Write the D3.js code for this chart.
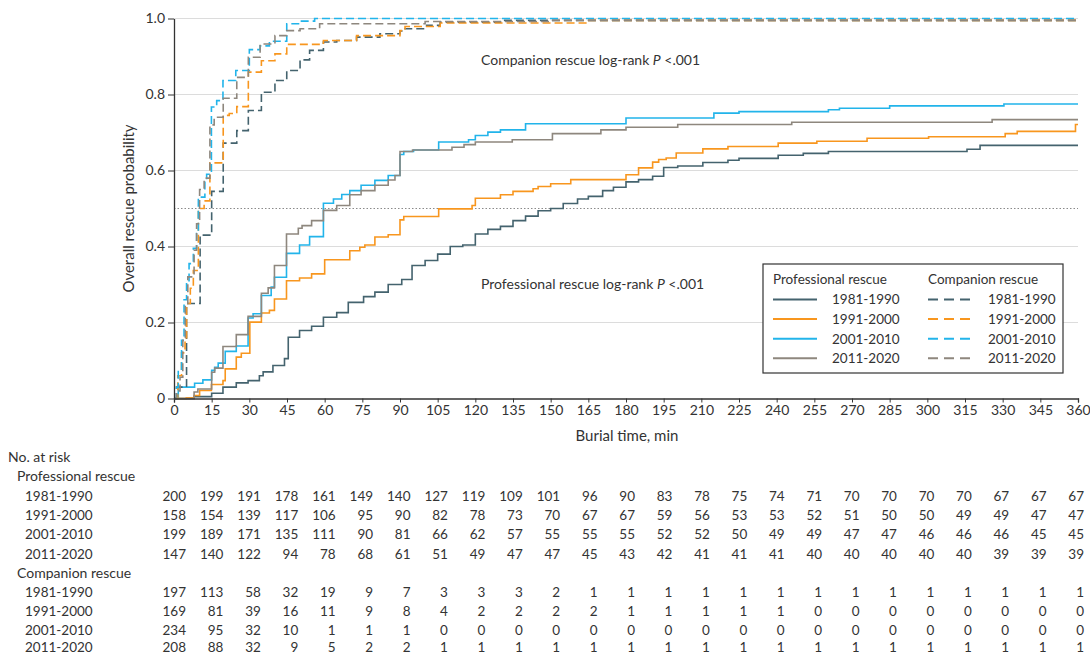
<!DOCTYPE html>
<html lang="en">
<head>
<meta charset="UTF-8">
<title>Overall rescue probability by burial time</title>
<style>
    html, body {
        margin: 0;
        padding: 0;
        background: #fff;
    }
    #svg text {
        font-family: "Lato", "Open Sans", sans-serif;
        fill: #333;
    }
</style>
</head>
<body>
<svg id="svg" width="1090" height="656"></svg>
<script src="https://d3js.org/d3.v7.min.js"></script>
<script>
    const decades = ["1981-1990", "1991-2000", "2001-2010", "2011-2020"]
    const timeTicks = [0, 15, 30, 45, 60, 75, 90, 105, 120, 135, 150, 165, 180, 195, 210, 225, 240, 255, 270, 285, 300, 315, 330, 345, 360]
    const probTicks = [0, 0.2, 0.4, 0.6, 0.8, 1.0]
    const probTickLabels = ["0", "0.2", "0.4", "0.6", "0.8", "1.0"]

    // professional rescue curves (minutes, probability), step after each point
    const proTime1 = [0, 8, 15, 19.5, 24.8, 29.5, 34, 35.5, 39.4, 44, 45.5, 50, 54.8, 59.5, 64.8, 69.4, 75.5, 80, 85.3, 90.7, 94.8, 100, 105, 110, 115, 120, 125, 130, 135, 140, 145, 150, 155, 160.7, 165, 170.7, 175, 180, 185, 190.6, 195, 200.6, 210.6, 220.6, 225, 240.6, 250.6, 260.6, 315.8, 321, 360]
    const proProb1 = [0, 0.005, 0.014, 0.03, 0.041, 0.047, 0.06, 0.07, 0.087, 0.105, 0.161, 0.179, 0.19, 0.214, 0.226, 0.253, 0.268, 0.28, 0.3, 0.313, 0.35, 0.363, 0.38, 0.4, 0.404, 0.433, 0.445, 0.453, 0.468, 0.48, 0.494, 0.5, 0.513, 0.525, 0.532, 0.547, 0.556, 0.57, 0.576, 0.585, 0.608, 0.612, 0.621, 0.627, 0.632, 0.64, 0.645, 0.65, 0.656, 0.666, 0.666]

    const proTime2 = [0, 4.9, 8, 10.2, 14.9, 19.5, 20.4, 24.8, 26.8, 30.2, 34.8, 38, 40, 44.8, 50, 54.8, 60, 70, 74, 76, 80, 85.3, 90, 91.5, 105.4, 118.7, 120, 130, 135, 143, 145, 150, 158, 180, 185, 190.6, 193, 196, 200, 210.6, 220.6, 240.6, 256, 276, 300.5, 331, 335.8, 359, 360]
    const proProb2 = [0, 0.002, 0.008, 0.021, 0.037, 0.047, 0.078, 0.109, 0.119, 0.201, 0.225, 0.232, 0.262, 0.31, 0.317, 0.328, 0.365, 0.389, 0.398, 0.404, 0.425, 0.431, 0.47, 0.479, 0.499, 0.508, 0.527, 0.536, 0.545, 0.552, 0.558, 0.565, 0.576, 0.589, 0.607, 0.622, 0.629, 0.633, 0.646, 0.657, 0.663, 0.672, 0.677, 0.685, 0.689, 0.697, 0.703, 0.721, 0.721]

    const proTime3 = [0, 1.7, 8.2, 11.5, 15, 16.2, 17.6, 20.4, 24.8, 29.5, 31.5, 34.8, 38.7, 40, 44.8, 50, 54, 59.5, 63.5, 66.8, 70, 74.5, 80, 85.3, 90, 91.5, 95.4, 105.4, 117.3, 120, 125, 130, 140, 180, 215, 225, 260.6, 265, 285, 330.5, 360]
    const proProb3 = [0, 0.03, 0.04, 0.049, 0.074, 0.082, 0.093, 0.124, 0.138, 0.212, 0.223, 0.271, 0.293, 0.319, 0.382, 0.404, 0.426, 0.514, 0.525, 0.537, 0.547, 0.561, 0.574, 0.587, 0.642, 0.65, 0.654, 0.675, 0.681, 0.692, 0.701, 0.707, 0.723, 0.738, 0.751, 0.755, 0.76, 0.764, 0.77, 0.775, 0.775]

    const proTime4 = [0, 8, 9.5, 15, 16.2, 19.5, 24.8, 29.5, 34.8, 37.5, 40, 44.8, 49.5, 51, 54.8, 59.5, 64.8, 70, 74.5, 80, 85.3, 88, 90, 95, 110.7, 115.5, 120, 134.7, 150.7, 170, 180, 200.6, 246, 325.8, 360]
    const proProb4 = [0, 0.017, 0.025, 0.069, 0.08, 0.137, 0.168, 0.216, 0.277, 0.291, 0.35, 0.433, 0.448, 0.455, 0.468, 0.495, 0.508, 0.536, 0.547, 0.561, 0.575, 0.587, 0.65, 0.654, 0.661, 0.668, 0.675, 0.681, 0.697, 0.707, 0.714, 0.721, 0.727, 0.734, 0.734]

    // companion rescue curves
    const comTime1 = [0, 1, 5, 10.4, 15, 19.6, 25, 29.6, 34.8, 40.2, 44.9, 50.2, 54, 59.5, 64.8, 72.7, 82, 90, 91.3, 100.6, 106, 130, 360]
    const comProb1 = [0, 0.03, 0.25, 0.43, 0.545, 0.672, 0.705, 0.758, 0.806, 0.837, 0.863, 0.891, 0.916, 0.938, 0.942, 0.951, 0.96, 0.967, 0.973, 0.982, 0.99, 0.995, 0.995]

    const comTime2 = [0, 1.5, 3, 4.4, 5, 6.5, 7.7, 9.7, 12, 14.3, 19.6, 22, 25, 29.6, 34.8, 40.2, 44.9, 59.5, 72.7, 90, 92, 106, 164, 360]
    const comProb2 = [0, 0.06, 0.12, 0.16, 0.25, 0.29, 0.337, 0.5, 0.52, 0.62, 0.745, 0.75, 0.768, 0.859, 0.889, 0.907, 0.932, 0.942, 0.955, 0.968, 0.979, 0.988, 0.995, 0.995]

    const comTime3 = [0, 1, 1.7, 3, 4, 5, 6, 7.7, 9, 9.7, 12.3, 13, 14.9, 17, 19.5, 24.6, 30, 34.3, 38, 44.9, 50.2, 56, 360]
    const comProb3 = [0, 0.03, 0.074, 0.153, 0.26, 0.31, 0.355, 0.395, 0.434, 0.53, 0.574, 0.59, 0.767, 0.784, 0.837, 0.863, 0.918, 0.928, 0.94, 0.986, 0.993, 1, 1]

    const comTime4 = [0, 1, 2.4, 3.5, 4.5, 5.5, 8, 9, 10.2, 12, 14.3, 16, 19.6, 25, 29.6, 34.3, 40.2, 44.9, 50.2, 58, 100, 150, 360]
    const comProb4 = [0, 0.02, 0.056, 0.153, 0.25, 0.32, 0.39, 0.46, 0.55, 0.58, 0.72, 0.74, 0.79, 0.845, 0.898, 0.933, 0.955, 0.968, 0.973, 0.986, 0.992, 0.995, 0.995]

    // number at risk, one value per time tick
    const riskPro1 = [200, 199, 191, 178, 161, 149, 140, 127, 119, 109, 101, 96, 90, 83, 78, 75, 74, 71, 70, 70, 70, 70, 67, 67, 67]
    const riskPro2 = [158, 154, 139, 117, 106, 95, 90, 82, 78, 73, 70, 67, 67, 59, 56, 53, 53, 52, 51, 50, 50, 49, 49, 47, 47]
    const riskPro3 = [199, 189, 171, 135, 111, 90, 81, 66, 62, 57, 55, 55, 55, 52, 52, 50, 49, 49, 47, 47, 46, 46, 46, 45, 45]
    const riskPro4 = [147, 140, 122, 94, 78, 68, 61, 51, 49, 47, 47, 45, 43, 42, 41, 41, 41, 40, 40, 40, 40, 40, 39, 39, 39]
    const riskCom1 = [197, 113, 58, 32, 19, 9, 7, 3, 3, 3, 2, 1, 1, 1, 1, 1, 1, 1, 1, 1, 1, 1, 1, 1, 1]
    const riskCom2 = [169, 81, 39, 16, 11, 9, 8, 4, 2, 2, 2, 2, 1, 1, 1, 1, 1, 0, 0, 0, 0, 0, 0, 0, 0]
    const riskCom3 = [234, 95, 32, 10, 1, 1, 1, 0, 0, 0, 0, 0, 0, 0, 0, 0, 0, 0, 0, 0, 0, 0, 0, 0, 0]
    const riskCom4 = [208, 88, 32, 9, 5, 2, 2, 1, 1, 1, 1, 1, 1, 1, 1, 1, 1, 1, 1, 1, 1, 1, 1, 1, 1]

    const colors = ["#44636e", "#f8961e", "#22b4ea", "#8e877e"]

    const svg = d3.select('#svg')

    // scales
    const x = d3.scaleLinear().domain([0, 360]).range([174, 1078])
    const y = d3.scaleLinear().domain([0, 1]).range([398.5, 18.5])

    // grid lines
    svg.append('g')
        .selectAll('line')
        .data(probTicks.slice(1))
        .enter()
        .append('line')
        .attr('x1', x(0))
        .attr('x2', x(360))
        .attr('y1', d => y(d))
        .attr('y2', d => y(d))
        .attr('stroke', '#dcdcdc')
        .attr('stroke-width', 1)

    // median line
    svg.append('line')
        .attr('x1', x(0))
        .attr('x2', x(360))
        .attr('y1', y(0.5))
        .attr('y2', y(0.5))
        .attr('stroke', '#8a8a8a')
        .attr('stroke-width', 1)
        .attr('stroke-dasharray', '1.5,2')

    // curves
    const series = [
        { t: proTime1, p: proProb1, c: 0, dash: false },
        { t: proTime2, p: proProb2, c: 1, dash: false },
        { t: proTime3, p: proProb3, c: 2, dash: false },
        { t: proTime4, p: proProb4, c: 3, dash: false },
        { t: comTime1, p: comProb1, c: 0, dash: true },
        { t: comTime2, p: comProb2, c: 1, dash: true },
        { t: comTime3, p: comProb3, c: 2, dash: true },
        { t: comTime4, p: comProb4, c: 3, dash: true },
    ]

    const line = d3.line()
        .x(d => x(d[0]))
        .y(d => y(d[1]))
        .curve(d3.curveStepAfter)

    svg.append('g')
        .selectAll('path')
        .data(series)
        .enter()
        .append('path')
        .attr('d', d => line(d3.zip(d.t, d.p)))
        .attr('fill', 'none')
        .attr('stroke', d => colors[d.c])
        .attr('stroke-width', 1.6)
        .attr('stroke-dasharray', d => d.dash ? '8,4' : null)

    // axes
    const bottomAxis = d3.axisBottom(x)
        .tickValues(timeTicks)
        .tickSize(4)
        .tickPadding(3)
    const xAxis = svg.append('g')
        .attr('transform', `translate(0, ${y(0)})`)
        .call(bottomAxis)
    xAxis.select('.domain').attr('stroke', '#333').attr('stroke-width', 1.3)
    xAxis.selectAll('.tick line').attr('stroke', '#333')
    xAxis.selectAll('text')
        .attr('font-size', '14px')
        .attr('fill', '#333')

    const leftAxis = d3.axisLeft(y)
        .tickValues(probTicks)
        .tickFormat((d, i) => probTickLabels[i])
        .tickSize(6)
        .tickSizeOuter(0)
        .tickPadding(3)
    const yAxis = svg.append('g')
        .attr('transform', `translate(${x(0)}, 0)`)
        .call(leftAxis)
    yAxis.select('.domain').attr('stroke', '#333').attr('stroke-width', 1.3)
    yAxis.selectAll('.tick line').attr('stroke', '#333')
    yAxis.selectAll('text')
        .attr('font-size', '14px')
        .attr('fill', '#333')

    // axis titles
    svg.append('text')
        .attr('transform', `translate(134, ${y(0.5)}) rotate(-90)`)
        .attr('text-anchor', 'middle')
        .attr('font-size', '15px')
        .text('Overall rescue probability')

    svg.append('text')
        .attr('x', 627)
        .attr('y', 441)
        .attr('text-anchor', 'middle')
        .attr('font-size', '15px')
        .text('Burial time, min')

    // log-rank notes
    const notes = [
        { label: 'Companion rescue log-rank ', yy: 65 },
        { label: 'Professional rescue log-rank ', yy: 289 },
    ]
    notes.forEach(n => {
        const t = svg.append('text')
            .attr('x', 481)
            .attr('y', n.yy)
            .attr('font-size', '14px')
        t.append('tspan').text(n.label)
        t.append('tspan').attr('font-style', 'italic').text('P')
        t.append('tspan').text(' <.001')
    })

    // legend
    const legend = svg.append('g').attr('transform', 'translate(763, 264)')
    legend.append('rect')
        .attr('width', 300)
        .attr('height', 109)
        .attr('fill', '#fff')
        .attr('stroke', '#333')
        .attr('stroke-width', 1.2)
    legend.append('text').attr('x', 10).attr('y', 20).attr('font-size', '13.5px').text('Professional rescue')
    legend.append('text').attr('x', 165).attr('y', 20).attr('font-size', '13.5px').text('Companion rescue')

    decades.forEach((dec, i) => {
        const ly = 35.5 + i * 19.6
        legend.append('line')
            .attr('x1', 10).attr('x2', 54)
            .attr('y1', ly).attr('y2', ly)
            .attr('stroke', colors[i])
            .attr('stroke-width', 2)
        legend.append('text')
            .attr('x', 69).attr('y', ly + 4.8)
            .attr('font-size', '13.5px')
            .text(dec)
        legend.append('line')
            .attr('x1', 165).attr('x2', 209)
            .attr('y1', ly).attr('y2', ly)
            .attr('stroke', colors[i])
            .attr('stroke-width', 2)
            .attr('stroke-dasharray', '10,6')
        legend.append('text')
            .attr('x', 225).attr('y', ly + 4.8)
            .attr('font-size', '13.5px')
            .text(dec)
    })

    // number at risk table
    const tx = d3.scaleLinear().domain([0, 360]).range([186, 1084])
    const table = svg.append('g')
    table.append('text').attr('x', 8).attr('y', 461.5).attr('font-size', '14px').text('No. at risk')
    table.append('text').attr('x', 17).attr('y', 481).attr('font-size', '14px').text('Professional rescue')
    table.append('text').attr('x', 17).attr('y', 577.5).attr('font-size', '14px').text('Companion rescue')

    const riskRows = [
        { label: decades[0], vals: riskPro1, yy: 500.5 },
        { label: decades[1], vals: riskPro2, yy: 520 },
        { label: decades[2], vals: riskPro3, yy: 539.3 },
        { label: decades[3], vals: riskPro4, yy: 558.5 },
        { label: decades[0], vals: riskCom1, yy: 596.5 },
        { label: decades[1], vals: riskCom2, yy: 615.7 },
        { label: decades[2], vals: riskCom3, yy: 634.8 },
        { label: decades[3], vals: riskCom4, yy: 652.3 },
    ]
    riskRows.forEach(r => {
        table.append('text')
            .attr('x', 25).attr('y', r.yy)
            .attr('font-size', '13.5px')
            .text(r.label)
        table.append('g')
            .selectAll('text')
            .data(r.vals)
            .enter()
            .append('text')
            .attr('x', (d, i) => tx(timeTicks[i]))
            .attr('y', r.yy)
            .attr('text-anchor', 'end')
            .attr('font-size', '13.5px')
            .text(d => d)
    })
</script>
</body>
</html>
